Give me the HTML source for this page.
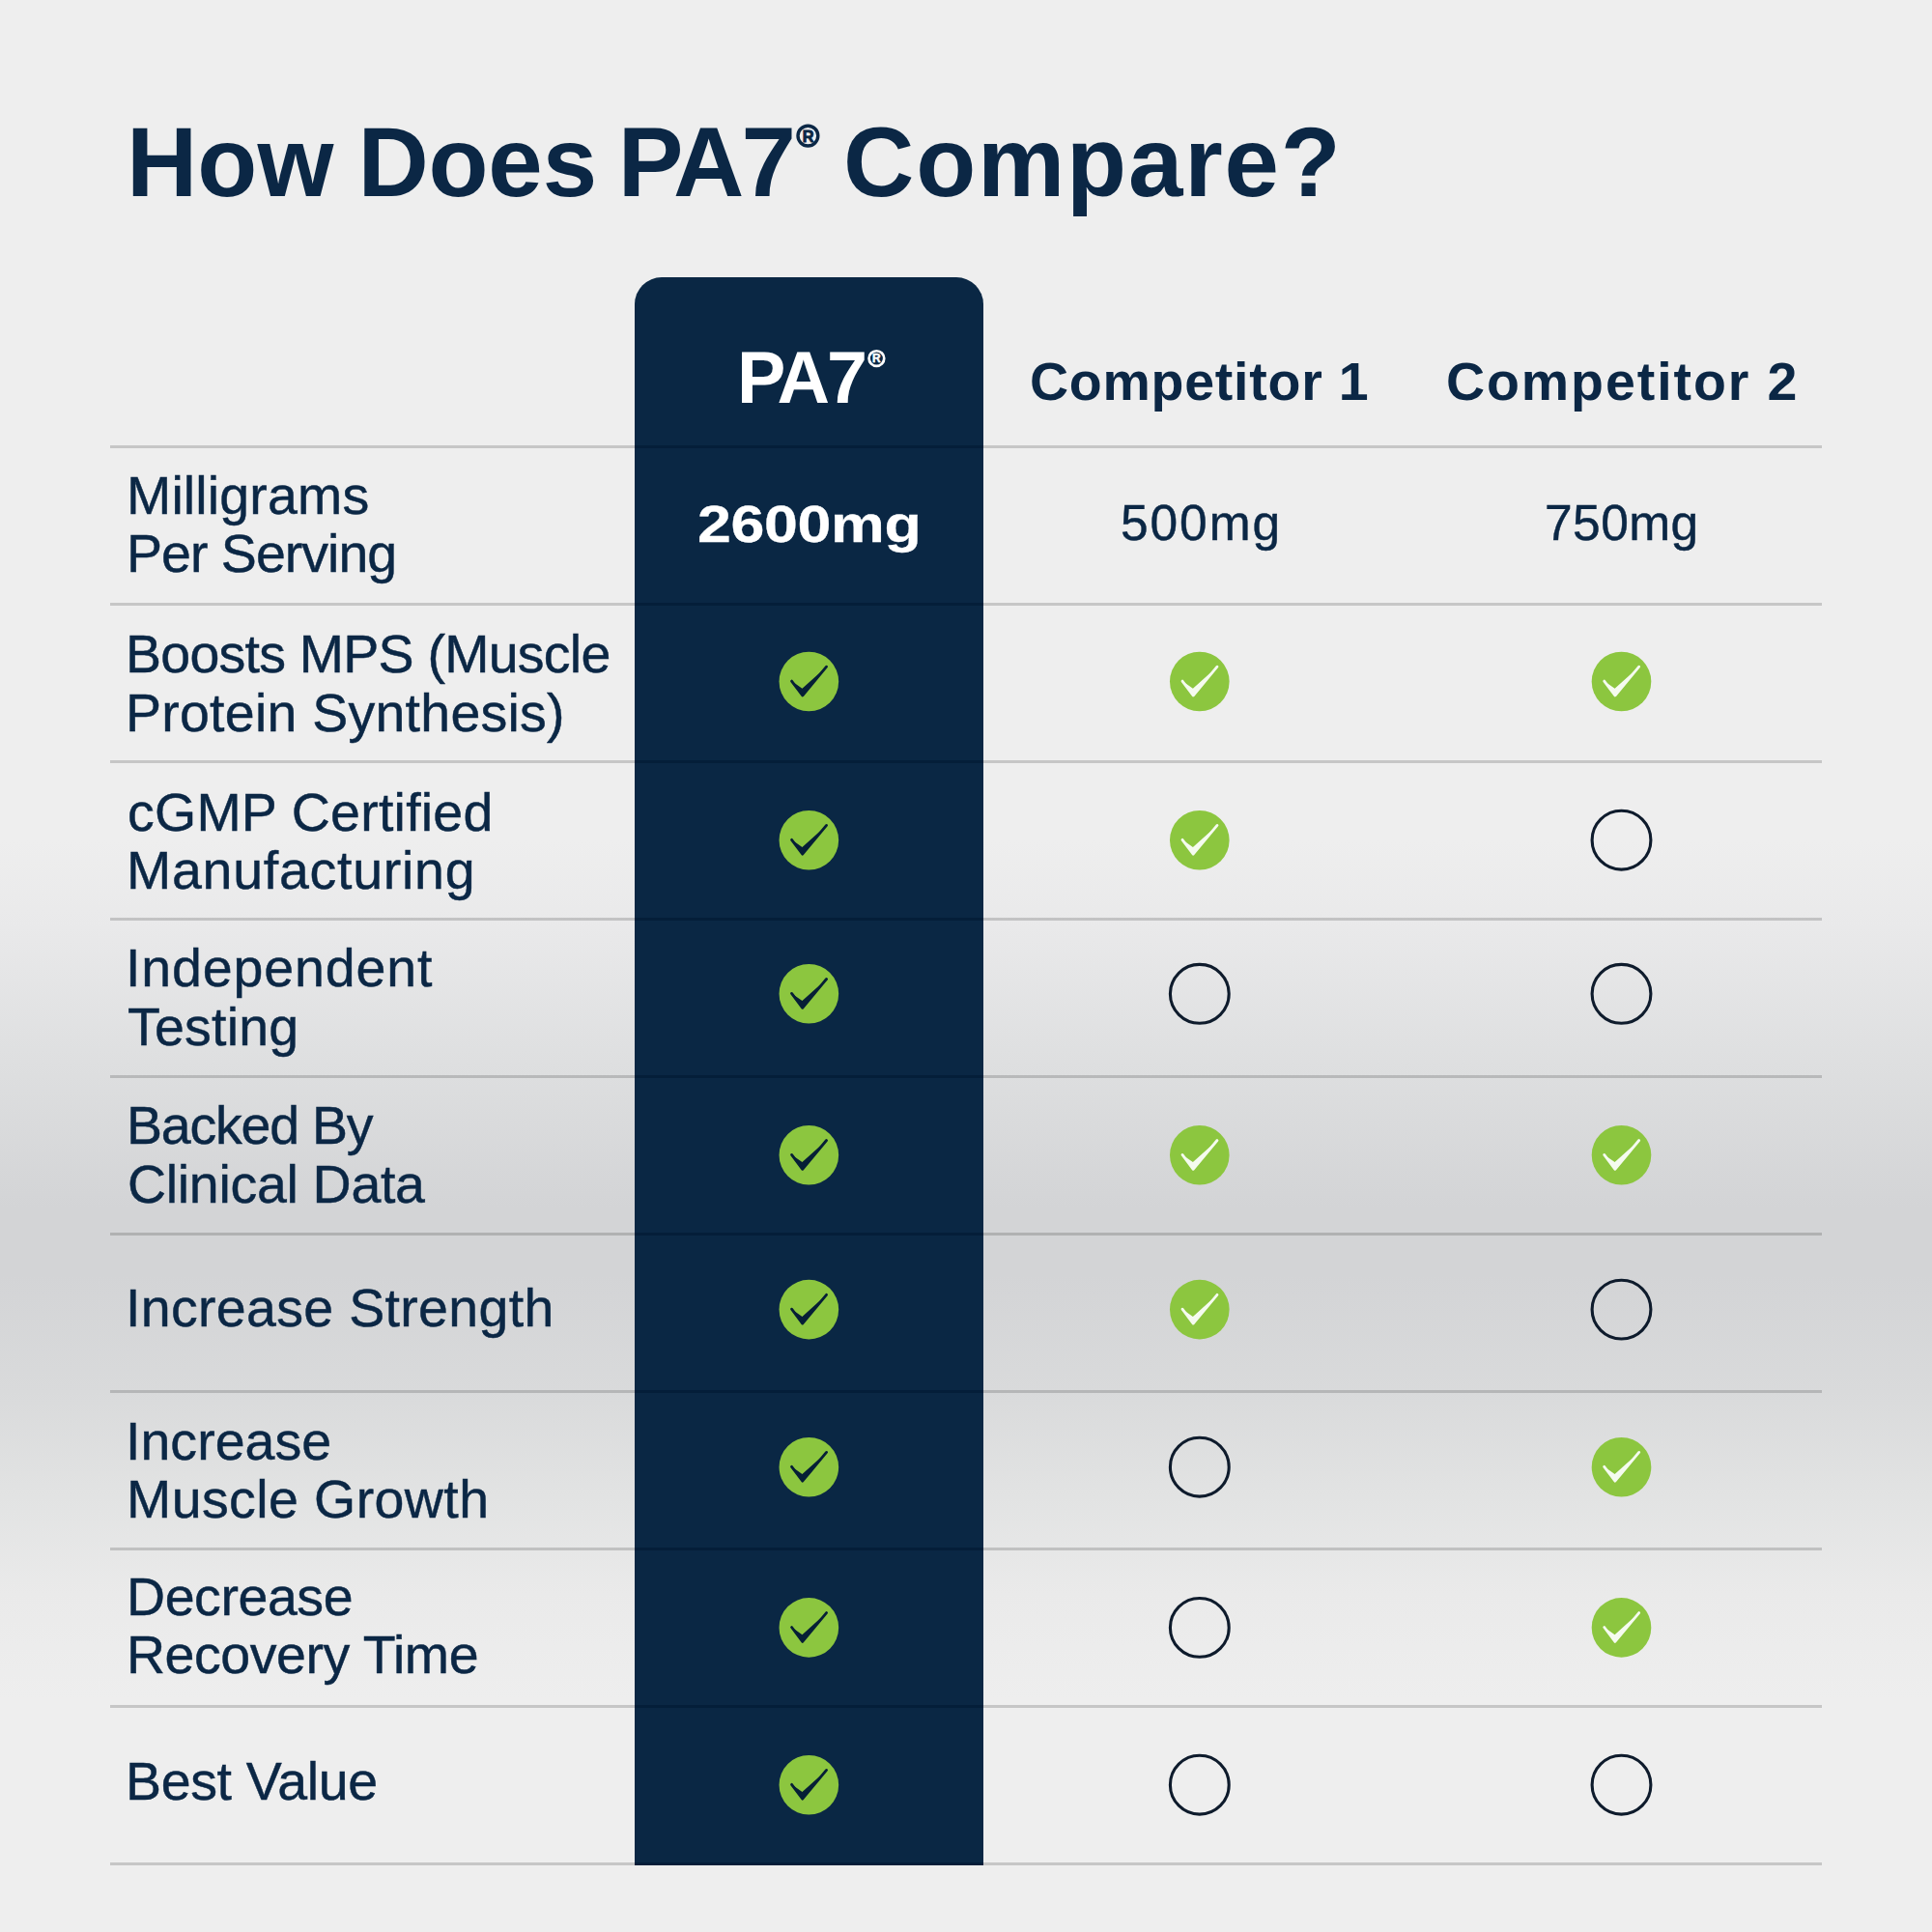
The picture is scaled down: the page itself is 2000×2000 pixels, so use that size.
<!DOCTYPE html>
<html><head><meta charset="utf-8"><style>
html,body{margin:0;padding:0}
body{width:2000px;height:2000px;position:relative;overflow:hidden;background:linear-gradient(to bottom,#eeeeee 0px,#eeeeee 870px,#e9e9ea 960px,#dedfe0 1100px,#d3d4d6 1250px,#d3d4d6 1320px,#d9dadb 1440px,#e2e3e3 1550px,#eaeaea 1650px,#eeeeee 1760px,#eeeeee 2000px);font-family:"Liberation Sans",sans-serif;color:#0b2745}
.a{position:absolute;white-space:pre}
.ln{position:absolute;height:3px;background:rgba(0,0,0,0.165)}
.lnd{position:absolute;height:3px;background:#041e39}
.ic{position:absolute}
#col{position:absolute;left:657px;top:287px;width:361px;height:1644px;background:#0a2744;border-radius:28px 28px 0 0}
</style></head><body>
<div id="col"></div>
<div class="ln" style="left:114px;top:461px;width:543px"></div>
<div class="lnd" style="left:657px;top:461px;width:361px"></div>
<div class="ln" style="left:1018px;top:461px;width:868px"></div>
<div class="ln" style="left:114px;top:624px;width:543px"></div>
<div class="lnd" style="left:657px;top:624px;width:361px"></div>
<div class="ln" style="left:1018px;top:624px;width:868px"></div>
<div class="ln" style="left:114px;top:787px;width:543px"></div>
<div class="lnd" style="left:657px;top:787px;width:361px"></div>
<div class="ln" style="left:1018px;top:787px;width:868px"></div>
<div class="ln" style="left:114px;top:950px;width:543px"></div>
<div class="lnd" style="left:657px;top:950px;width:361px"></div>
<div class="ln" style="left:1018px;top:950px;width:868px"></div>
<div class="ln" style="left:114px;top:1113px;width:543px"></div>
<div class="lnd" style="left:657px;top:1113px;width:361px"></div>
<div class="ln" style="left:1018px;top:1113px;width:868px"></div>
<div class="ln" style="left:114px;top:1276px;width:543px"></div>
<div class="lnd" style="left:657px;top:1276px;width:361px"></div>
<div class="ln" style="left:1018px;top:1276px;width:868px"></div>
<div class="ln" style="left:114px;top:1439px;width:543px"></div>
<div class="lnd" style="left:657px;top:1439px;width:361px"></div>
<div class="ln" style="left:1018px;top:1439px;width:868px"></div>
<div class="ln" style="left:114px;top:1602px;width:543px"></div>
<div class="lnd" style="left:657px;top:1602px;width:361px"></div>
<div class="ln" style="left:1018px;top:1602px;width:868px"></div>
<div class="ln" style="left:114px;top:1765px;width:543px"></div>
<div class="lnd" style="left:657px;top:1765px;width:361px"></div>
<div class="ln" style="left:1018px;top:1765px;width:868px"></div>
<div class="ln" style="left:114px;top:1928px;width:543px"></div>
<div class="lnd" style="left:657px;top:1928px;width:361px"></div>
<div class="ln" style="left:1018px;top:1928px;width:868px"></div>
<div class="a" style="left:131.00px;top:112.11px;font-size:101.5px;line-height:112px;font-weight:bold;color:#0b2745;letter-spacing:0.050px;-webkit-text-stroke:0px #0b2745;transform:scaleX(1);transform-origin:0 0">How</div>
<div class="a" style="left:370.40px;top:112.11px;font-size:101.5px;line-height:112px;font-weight:bold;color:#0b2745;letter-spacing:-0.167px;-webkit-text-stroke:0px #0b2745;transform:scaleX(1);transform-origin:0 0">Does</div>
<div class="a" style="left:639.80px;top:112.11px;font-size:101.5px;line-height:112px;font-weight:bold;color:#0b2745;letter-spacing:-2.900px;-webkit-text-stroke:0px #0b2745;transform:scaleX(1);transform-origin:0 0">PA7</div>
<div class="a" style="left:873.00px;top:112.11px;font-size:101.5px;line-height:112px;font-weight:bold;color:#0b2745;letter-spacing:1.843px;-webkit-text-stroke:0px #0b2745;transform:scaleX(1);transform-origin:0 0">Compare?</div>
<div class="a" style="left:763.00px;top:349.52px;font-size:75.5px;line-height:83px;font-weight:bold;color:#ffffff;letter-spacing:-3.200px;-webkit-text-stroke:0px #ffffff;transform:scaleX(1);transform-origin:0 0">PA7</div>
<div class="a" style="left:1066.00px;top:364.86px;font-size:55.5px;line-height:61px;font-weight:bold;color:#0b2745;letter-spacing:0.755px;-webkit-text-stroke:0px #0b2745;transform:scaleX(1);transform-origin:0 0">Competitor 1</div>
<div class="a" style="left:1497.00px;top:364.86px;font-size:55.5px;line-height:61px;font-weight:bold;color:#0b2745;letter-spacing:1.927px;-webkit-text-stroke:0px #0b2745;transform:scaleX(1);transform-origin:0 0">Competitor 2</div>
<div class="a" style="left:722.00px;top:512.70px;font-size:54.5px;line-height:60px;font-weight:bold;color:#ffffff;letter-spacing:-0.300px;-webkit-text-stroke:0.3px #ffffff;transform:scaleX(1.15);transform-origin:0 0">2600mg</div>
<div class="a" style="left:1160.00px;top:513.14px;font-size:51.5px;line-height:57px;font-weight:normal;color:#0b2745;letter-spacing:1.900px;-webkit-text-stroke:0.45px #0b2745;transform:scaleX(1);transform-origin:0 0">500mg</div>
<div class="a" style="left:1599.00px;top:513.14px;font-size:51.5px;line-height:57px;font-weight:normal;color:#0b2745;letter-spacing:0.425px;-webkit-text-stroke:0.45px #0b2745;transform:scaleX(1);transform-origin:0 0">750mg</div>
<div class="a" style="left:131.00px;top:483.26px;font-size:55.5px;line-height:61px;font-weight:normal;color:#0b2745;letter-spacing:0.156px;-webkit-text-stroke:0.45px #0b2745;transform:scaleX(1);transform-origin:0 0">Milligrams</div>
<div class="a" style="left:131.00px;top:543.06px;font-size:55.5px;line-height:61px;font-weight:normal;color:#0b2745;letter-spacing:-0.980px;-webkit-text-stroke:0.45px #0b2745;transform:scaleX(1);transform-origin:0 0">Per Serving</div>
<div class="a" style="left:130.00px;top:647.46px;font-size:55.5px;line-height:61px;font-weight:normal;color:#0b2745;letter-spacing:-0.753px;-webkit-text-stroke:0.45px #0b2745;transform:scaleX(1);transform-origin:0 0">Boosts MPS (Muscle</div>
<div class="a" style="left:130.00px;top:707.76px;font-size:55.5px;line-height:61px;font-weight:normal;color:#0b2745;letter-spacing:0.247px;-webkit-text-stroke:0.45px #0b2745;transform:scaleX(1);transform-origin:0 0">Protein Synthesis)</div>
<div class="a" style="left:132.00px;top:810.96px;font-size:55.5px;line-height:61px;font-weight:normal;color:#0b2745;letter-spacing:0.238px;-webkit-text-stroke:0.45px #0b2745;transform:scaleX(1);transform-origin:0 0">cGMP Certified</div>
<div class="a" style="left:131.00px;top:871.16px;font-size:55.5px;line-height:61px;font-weight:normal;color:#0b2745;letter-spacing:0.733px;-webkit-text-stroke:0.45px #0b2745;transform:scaleX(1);transform-origin:0 0">Manufacturing</div>
<div class="a" style="left:130.00px;top:972.26px;font-size:55.5px;line-height:61px;font-weight:normal;color:#0b2745;letter-spacing:0.880px;-webkit-text-stroke:0.45px #0b2745;transform:scaleX(1);transform-origin:0 0">Independent</div>
<div class="a" style="left:132.00px;top:1032.76px;font-size:55.5px;line-height:61px;font-weight:normal;color:#0b2745;letter-spacing:0.217px;-webkit-text-stroke:0.45px #0b2745;transform:scaleX(1);transform-origin:0 0">Testing</div>
<div class="a" style="left:131.00px;top:1135.26px;font-size:55.5px;line-height:61px;font-weight:normal;color:#0b2745;letter-spacing:-1.225px;-webkit-text-stroke:0.45px #0b2745;transform:scaleX(1);transform-origin:0 0">Backed By</div>
<div class="a" style="left:132.00px;top:1195.76px;font-size:55.5px;line-height:61px;font-weight:normal;color:#0b2745;letter-spacing:-0.300px;-webkit-text-stroke:0.45px #0b2745;transform:scaleX(1);transform-origin:0 0">Clinical Data</div>
<div class="a" style="left:130.00px;top:1323.86px;font-size:55.5px;line-height:61px;font-weight:normal;color:#0b2745;letter-spacing:0.325px;-webkit-text-stroke:0.45px #0b2745;transform:scaleX(1);transform-origin:0 0">Increase Strength</div>
<div class="a" style="left:130.00px;top:1462.06px;font-size:55.5px;line-height:61px;font-weight:normal;color:#0b2745;letter-spacing:0.043px;-webkit-text-stroke:0.45px #0b2745;transform:scaleX(1);transform-origin:0 0">Increase</div>
<div class="a" style="left:131.00px;top:1522.26px;font-size:55.5px;line-height:61px;font-weight:normal;color:#0b2745;letter-spacing:0.408px;-webkit-text-stroke:0.45px #0b2745;transform:scaleX(1);transform-origin:0 0">Muscle Growth</div>
<div class="a" style="left:131.00px;top:1622.96px;font-size:55.5px;line-height:61px;font-weight:normal;color:#0b2745;letter-spacing:-0.429px;-webkit-text-stroke:0.45px #0b2745;transform:scaleX(1);transform-origin:0 0">Decrease</div>
<div class="a" style="left:131.00px;top:1682.96px;font-size:55.5px;line-height:61px;font-weight:normal;color:#0b2745;letter-spacing:-0.467px;-webkit-text-stroke:0.45px #0b2745;transform:scaleX(1);transform-origin:0 0">Recovery Time</div>
<div class="a" style="left:130.00px;top:1814.26px;font-size:55.5px;line-height:61px;font-weight:normal;color:#0b2745;letter-spacing:-0.344px;-webkit-text-stroke:0.45px #0b2745;transform:scaleX(1);transform-origin:0 0">Best Value</div>
<svg class="ic" style="left:816px;top:120px" width="40" height="40" viewBox="816 120 40 40"><circle cx="836.4" cy="140.6" r="10.40" fill="none" stroke="#0b2745" stroke-width="3.4"/><text x="836.55" y="146.6" text-anchor="middle" font-family="Liberation Sans" font-weight="bold" font-size="16.4" fill="#0b2745" stroke="#0b2745" stroke-width="0.9">R</text></svg>
<svg class="ic" style="left:887px;top:351px" width="40" height="40" viewBox="887 351 40 40"><circle cx="907.4" cy="371.1" r="7.85" fill="none" stroke="#ffffff" stroke-width="2.7"/><text x="907.4" y="375.1" text-anchor="middle" font-family="Liberation Sans" font-weight="bold" font-size="11.9" fill="#ffffff" stroke="#ffffff" stroke-width="0.5">R</text></svg>
<svg class="ic" style="left:802px;top:670px" width="70" height="70" viewBox="-0.35 -0.50 70 70"><circle cx="35" cy="35" r="30.8" fill="#8cc63f"/><path d="M17.2 34.6 L28.4 49.5 L53.2 19.7 L28.1 42.3 Z" fill="#061f36"/><path d="M17.2 34.6 L28.4 49.5 L53.2 19.7" fill="none" stroke="#061f36" stroke-width="2.8" stroke-linecap="round" stroke-linejoin="round"/></svg>
<svg class="ic" style="left:1206px;top:670px" width="70" height="70" viewBox="-0.80 -0.50 70 70"><circle cx="35" cy="35" r="30.8" fill="#8cc63f"/><path d="M17.2 34.6 L28.4 49.5 L53.2 19.7 L28.1 42.3 Z" fill="#f5fbef"/><path d="M17.2 34.6 L28.4 49.5 L53.2 19.7" fill="none" stroke="#f5fbef" stroke-width="2.8" stroke-linecap="round" stroke-linejoin="round"/></svg>
<svg class="ic" style="left:1643px;top:670px" width="70" height="70" viewBox="-0.50 -0.50 70 70"><circle cx="35" cy="35" r="30.8" fill="#8cc63f"/><path d="M17.2 34.6 L28.4 49.5 L53.2 19.7 L28.1 42.3 Z" fill="#f5fbef"/><path d="M17.2 34.6 L28.4 49.5 L53.2 19.7" fill="none" stroke="#f5fbef" stroke-width="2.8" stroke-linecap="round" stroke-linejoin="round"/></svg>
<svg class="ic" style="left:802px;top:834px" width="70" height="70" viewBox="-0.35 -0.70 70 70"><circle cx="35" cy="35" r="30.8" fill="#8cc63f"/><path d="M17.2 34.6 L28.4 49.5 L53.2 19.7 L28.1 42.3 Z" fill="#061f36"/><path d="M17.2 34.6 L28.4 49.5 L53.2 19.7" fill="none" stroke="#061f36" stroke-width="2.8" stroke-linecap="round" stroke-linejoin="round"/></svg>
<svg class="ic" style="left:1206px;top:834px" width="70" height="70" viewBox="-0.80 -0.70 70 70"><circle cx="35" cy="35" r="30.8" fill="#8cc63f"/><path d="M17.2 34.6 L28.4 49.5 L53.2 19.7 L28.1 42.3 Z" fill="#f5fbef"/><path d="M17.2 34.6 L28.4 49.5 L53.2 19.7" fill="none" stroke="#f5fbef" stroke-width="2.8" stroke-linecap="round" stroke-linejoin="round"/></svg>
<svg class="ic" style="left:1643px;top:834px" width="70" height="70" viewBox="-0.50 -0.70 70 70"><circle cx="35" cy="35" r="30.4" fill="none" stroke="#0e1b2c" stroke-width="3.1"/></svg>
<svg class="ic" style="left:802px;top:993px" width="70" height="70" viewBox="-0.35 -0.80 70 70"><circle cx="35" cy="35" r="30.8" fill="#8cc63f"/><path d="M17.2 34.6 L28.4 49.5 L53.2 19.7 L28.1 42.3 Z" fill="#061f36"/><path d="M17.2 34.6 L28.4 49.5 L53.2 19.7" fill="none" stroke="#061f36" stroke-width="2.8" stroke-linecap="round" stroke-linejoin="round"/></svg>
<svg class="ic" style="left:1206px;top:993px" width="70" height="70" viewBox="-0.80 -0.80 70 70"><circle cx="35" cy="35" r="30.4" fill="none" stroke="#0e1b2c" stroke-width="3.1"/></svg>
<svg class="ic" style="left:1643px;top:993px" width="70" height="70" viewBox="-0.50 -0.80 70 70"><circle cx="35" cy="35" r="30.4" fill="none" stroke="#0e1b2c" stroke-width="3.1"/></svg>
<svg class="ic" style="left:802px;top:1160px" width="70" height="70" viewBox="-0.35 -0.80 70 70"><circle cx="35" cy="35" r="30.8" fill="#8cc63f"/><path d="M17.2 34.6 L28.4 49.5 L53.2 19.7 L28.1 42.3 Z" fill="#061f36"/><path d="M17.2 34.6 L28.4 49.5 L53.2 19.7" fill="none" stroke="#061f36" stroke-width="2.8" stroke-linecap="round" stroke-linejoin="round"/></svg>
<svg class="ic" style="left:1206px;top:1160px" width="70" height="70" viewBox="-0.80 -0.80 70 70"><circle cx="35" cy="35" r="30.8" fill="#8cc63f"/><path d="M17.2 34.6 L28.4 49.5 L53.2 19.7 L28.1 42.3 Z" fill="#f5fbef"/><path d="M17.2 34.6 L28.4 49.5 L53.2 19.7" fill="none" stroke="#f5fbef" stroke-width="2.8" stroke-linecap="round" stroke-linejoin="round"/></svg>
<svg class="ic" style="left:1643px;top:1160px" width="70" height="70" viewBox="-0.50 -0.80 70 70"><circle cx="35" cy="35" r="30.8" fill="#8cc63f"/><path d="M17.2 34.6 L28.4 49.5 L53.2 19.7 L28.1 42.3 Z" fill="#f5fbef"/><path d="M17.2 34.6 L28.4 49.5 L53.2 19.7" fill="none" stroke="#f5fbef" stroke-width="2.8" stroke-linecap="round" stroke-linejoin="round"/></svg>
<svg class="ic" style="left:802px;top:1320px" width="70" height="70" viewBox="-0.35 -0.60 70 70"><circle cx="35" cy="35" r="30.8" fill="#8cc63f"/><path d="M17.2 34.6 L28.4 49.5 L53.2 19.7 L28.1 42.3 Z" fill="#061f36"/><path d="M17.2 34.6 L28.4 49.5 L53.2 19.7" fill="none" stroke="#061f36" stroke-width="2.8" stroke-linecap="round" stroke-linejoin="round"/></svg>
<svg class="ic" style="left:1206px;top:1320px" width="70" height="70" viewBox="-0.80 -0.60 70 70"><circle cx="35" cy="35" r="30.8" fill="#8cc63f"/><path d="M17.2 34.6 L28.4 49.5 L53.2 19.7 L28.1 42.3 Z" fill="#f5fbef"/><path d="M17.2 34.6 L28.4 49.5 L53.2 19.7" fill="none" stroke="#f5fbef" stroke-width="2.8" stroke-linecap="round" stroke-linejoin="round"/></svg>
<svg class="ic" style="left:1643px;top:1320px" width="70" height="70" viewBox="-0.50 -0.60 70 70"><circle cx="35" cy="35" r="30.4" fill="none" stroke="#0e1b2c" stroke-width="3.1"/></svg>
<svg class="ic" style="left:802px;top:1483px" width="70" height="70" viewBox="-0.35 -0.70 70 70"><circle cx="35" cy="35" r="30.8" fill="#8cc63f"/><path d="M17.2 34.6 L28.4 49.5 L53.2 19.7 L28.1 42.3 Z" fill="#061f36"/><path d="M17.2 34.6 L28.4 49.5 L53.2 19.7" fill="none" stroke="#061f36" stroke-width="2.8" stroke-linecap="round" stroke-linejoin="round"/></svg>
<svg class="ic" style="left:1206px;top:1483px" width="70" height="70" viewBox="-0.80 -0.70 70 70"><circle cx="35" cy="35" r="30.4" fill="none" stroke="#0e1b2c" stroke-width="3.1"/></svg>
<svg class="ic" style="left:1643px;top:1483px" width="70" height="70" viewBox="-0.50 -0.70 70 70"><circle cx="35" cy="35" r="30.8" fill="#8cc63f"/><path d="M17.2 34.6 L28.4 49.5 L53.2 19.7 L28.1 42.3 Z" fill="#f5fbef"/><path d="M17.2 34.6 L28.4 49.5 L53.2 19.7" fill="none" stroke="#f5fbef" stroke-width="2.8" stroke-linecap="round" stroke-linejoin="round"/></svg>
<svg class="ic" style="left:802px;top:1649px" width="70" height="70" viewBox="-0.35 -0.90 70 70"><circle cx="35" cy="35" r="30.8" fill="#8cc63f"/><path d="M17.2 34.6 L28.4 49.5 L53.2 19.7 L28.1 42.3 Z" fill="#061f36"/><path d="M17.2 34.6 L28.4 49.5 L53.2 19.7" fill="none" stroke="#061f36" stroke-width="2.8" stroke-linecap="round" stroke-linejoin="round"/></svg>
<svg class="ic" style="left:1206px;top:1649px" width="70" height="70" viewBox="-0.80 -0.90 70 70"><circle cx="35" cy="35" r="30.4" fill="none" stroke="#0e1b2c" stroke-width="3.1"/></svg>
<svg class="ic" style="left:1643px;top:1649px" width="70" height="70" viewBox="-0.50 -0.90 70 70"><circle cx="35" cy="35" r="30.8" fill="#8cc63f"/><path d="M17.2 34.6 L28.4 49.5 L53.2 19.7 L28.1 42.3 Z" fill="#f5fbef"/><path d="M17.2 34.6 L28.4 49.5 L53.2 19.7" fill="none" stroke="#f5fbef" stroke-width="2.8" stroke-linecap="round" stroke-linejoin="round"/></svg>
<svg class="ic" style="left:802px;top:1812px" width="70" height="70" viewBox="-0.35 -0.70 70 70"><circle cx="35" cy="35" r="30.8" fill="#8cc63f"/><path d="M17.2 34.6 L28.4 49.5 L53.2 19.7 L28.1 42.3 Z" fill="#061f36"/><path d="M17.2 34.6 L28.4 49.5 L53.2 19.7" fill="none" stroke="#061f36" stroke-width="2.8" stroke-linecap="round" stroke-linejoin="round"/></svg>
<svg class="ic" style="left:1206px;top:1812px" width="70" height="70" viewBox="-0.80 -0.70 70 70"><circle cx="35" cy="35" r="30.4" fill="none" stroke="#0e1b2c" stroke-width="3.1"/></svg>
<svg class="ic" style="left:1643px;top:1812px" width="70" height="70" viewBox="-0.50 -0.70 70 70"><circle cx="35" cy="35" r="30.4" fill="none" stroke="#0e1b2c" stroke-width="3.1"/></svg>
</body></html>
